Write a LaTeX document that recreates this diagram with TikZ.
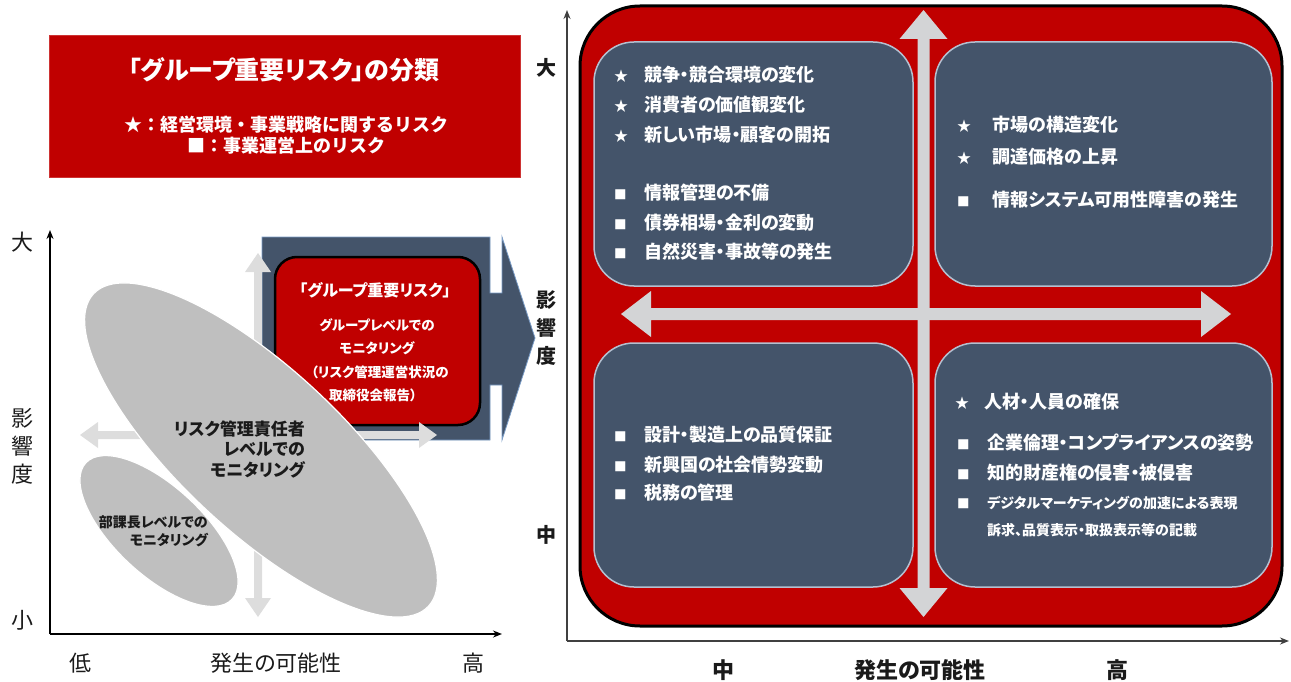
\documentclass[tikz,border=0pt]{standalone}
\usepackage{fontspec}
\setmainfont{Noto Sans CJK JP}[RawFeature=+palt]
\newfontfamily\jpfull{Noto Sans CJK JP}
\usetikzlibrary{shapes.geometric,arrows.meta}
\definecolor{rred}{HTML}{C00000}
\definecolor{navy}{HTML}{44546A}
\definecolor{qline}{HTML}{B4C0D0}
\definecolor{blockline}{HTML}{7A9CC6}
\definecolor{garrow}{HTML}{D3D4D6}
\definecolor{larrow}{HTML}{DDDDDD}
\definecolor{ellg}{HTML}{BFBFBF}
\definecolor{txtd}{HTML}{1A1A1A}
\newcommand\starb[1][30pt]{\makebox[#1][l]{\fontsize{14}{14}\selectfont ★}}
\newcommand\sqb[1][30pt]{\makebox[#1][l]{\fontsize{12.5}{12.5}\selectfont ■}}
\tikzset{
  legendbox/.style={fill=rred, draw=rred!80!white, line width=0.6pt, minimum width=471pt, minimum height=142pt, inner sep=0},
  wtitle/.style={text=white, font=\bfseries\fontsize{25}{28}\selectfont, inner sep=0},
  wsub/.style={text=white, font=\jpfull\bfseries\fontsize{18}{20}\selectfont, inner sep=0},
  grpbox/.style={fill=rred, draw=black, line width=2.5pt, rounded corners=22pt, minimum width=205pt, minimum height=168pt, inner sep=0},
  grptxt/.style={text=white, font=\bfseries\fontsize{13.5}{15}\selectfont, inner sep=0},
  grptitle/.style={text=white, font=\bfseries\fontsize{16}{18}\selectfont, inner sep=0},
  ell/.style={ellipse, fill=ellg, draw=white, line width=1.2pt, inner sep=0},
  elltxt/.style={text=txtd, font=\bfseries\fontsize{17}{20.5}\selectfont, inner sep=0, align=right},
  elltxts/.style={text=txtd, font=\bfseries\fontsize{14}{18}\selectfont, inner sep=0, align=right},
  laxlabel/.style={text=txtd, font=\mdseries\fontsize{22}{24}\selectfont, inner sep=0},
  raxlabel/.style={text=txtd, font=\bfseries\fontsize{20}{22}\selectfont, inner sep=0},
  bxlabel/.style={text=txtd, font=\bfseries\fontsize{22}{24}\selectfont, inner sep=0},
  laxis/.style={draw=black, line width=1.5pt, -{Stealth[length=9pt,width=7pt]}},
  raxis/.style={draw=black!75, line width=1.5pt, -{Stealth[length=9pt,width=7pt]}},
  frame/.style={fill=rred, draw=black, line width=3pt, rounded corners=60pt, minimum width=702pt, minimum height=620pt, inner sep=0},
  qbox/.style={fill=navy, draw=qline, line width=1.5pt, rounded corners=40pt, minimum height=244pt, inner sep=0},
  item/.style={anchor=west, text=white, font=\bfseries\fontsize{18}{20}\selectfont, inner sep=0},
  itemsm/.style={anchor=west, text=white, font=\bfseries\fontsize{14}{16}\selectfont, inner sep=0},
}
\begin{document}
\begin{tikzpicture}[x=1pt,y=-1pt]
\useasboundingbox (0,0) rectangle (1291,682);
% ---------------- legend box ----------------
\node[legendbox] (legend) at (284.5,106) {};
\node[wtitle] (legtitle) at (284,70) {「グループ重要リスク」の分類};
\node[wsub] (leg1) at (286,125) {★：経営環境・事業戦略に関するリスク};
\node[wsub] (leg2) at (286,146) {■：事業運営上のリスク};
% ---------------- left chart ----------------
\draw[fill=navy, draw=blockline, line width=0.8pt]
  (262,237) -- (490,237) -- (490,293) -- (502,293) -- (502,237) -- (535,338)
  -- (502,440) -- (502,385) -- (490,385) -- (490,440) -- (262,440) -- cycle;
\node[grpbox] (grp) at (377.5,341) {};
\node[grptitle] (grp0) at (375,290) {「グループ重要リスク」};
\node[grptxt] (grp1) at (377,325) {グループレベルでの};
\node[grptxt] (grp2) at (377,348) {モニタリング};
\node[grptxt] (grp3) at (380,372) {（リスク管理運営状況の};
\node[grptxt] (grp4) at (373,395) {取締役会報告）};
% light double arrows
\fill[larrow] (258,253) -- (271,272) -- (262,272) -- (262,598) -- (271,598) -- (258,617)
  -- (245,598) -- (254,598) -- (254,272) -- (245,272) -- cycle;
\fill[larrow] (80,435) -- (98,422) -- (98,431) -- (419,431) -- (419,422) -- (437,435)
  -- (419,448) -- (419,439) -- (98,439) -- (98,448) -- cycle;
% ellipses
\node[ell, minimum width=458pt, minimum height=162pt, rotate=-43] (big) at (261,450) {};
\node[ell, minimum width=200pt, minimum height=88pt, rotate=-43] (small) at (159,531) {};
\node[elltxt, anchor=east] (bigtxt) at (305,449) {リスク管理責任者\\レベルでの\hspace*{16pt}\\モニタリング};
\node[elltxts, anchor=east] (smalltxt) at (208,531) {部課長レベルでの\\モニタリング};
% axes
\coordinate (lo) at (50,634);
\coordinate (ly) at (50,230);
\coordinate (lx) at (502,634);
\draw[laxis] (lo) -- (ly);
\draw[laxis] (lo) -- (lx);
\node[laxlabel] (lbig) at (22,242) {大};
\node[laxlabel] (lsmall) at (22,620) {小};
\node[laxlabel] (le1) at (22,418) {影};
\node[laxlabel] (le2) at (22,446) {響};
\node[laxlabel] (le3) at (22,474) {度};
\node[laxlabel] (llow) at (80,663) {低};
\node[laxlabel] (lposs) at (276,663) {発生の可能性};
\node[laxlabel] (lhigh) at (473,663) {高};
% ---------------- right chart ----------------
\node[frame] (fr) at (931,316) {};
\fill[garrow] (621,314) -- (651,291) -- (651,308) -- (1201,308) -- (1201,291) -- (1231,314)
  -- (1201,337) -- (1201,320) -- (651,320) -- (651,337) -- cycle;
\fill[garrow] (923.5,10) -- (947.5,39) -- (929.5,39) -- (929.5,588) -- (947.5,588) -- (923.5,617)
  -- (899.5,588) -- (917.5,588) -- (917.5,39) -- (899.5,39) -- cycle;
\node[qbox, minimum width=319pt] (qtl) at (753.5,164) {};
\node[qbox, minimum width=337pt] (qtr) at (1103.5,164) {};
\node[qbox, minimum width=319pt] (qbl) at (753.5,465) {};
\node[qbox, minimum width=337pt] (qbr) at (1103.5,465) {};
% TL items
\node[item] (tl1) at (614,75) {\starb 競争・競合環境の変化};
\node[item] (tl2) at (614,105) {\starb 消費者の価値観変化};
\node[item] (tl3) at (614,135) {\starb 新しい市場・顧客の開拓};
\node[item] (tl4) at (614,193) {\sqb 情報管理の不備};
\node[item] (tl5) at (614,223) {\sqb 債券相場・金利の変動};
\node[item] (tl6) at (614,252) {\sqb 自然災害・事故等の発生};
% TR items
\node[item] (tr1) at (957,125) {\starb[31pt] 市場の構造変化};
\node[item] (tr2) at (957,157) {\starb[31pt] 調達価格の上昇};
\node[item] (tr3) at (957,200) {\sqb[31pt] 情報システム可用性障害の発生};
% BL items
\node[item] (bl1) at (614,435) {\sqb 設計・製造上の品質保証};
\node[item] (bl2) at (614,465) {\sqb 新興国の社会情勢変動};
\node[item] (bl3) at (614,493) {\sqb 税務の管理};
% BR items
\node[item] (br1) at (955,402) {\starb[25pt] 人材・人員の確保};
\node[item] (br2) at (957,443) {\sqb 企業倫理・コンプライアンスの姿勢};
\node[item] (br3) at (957,473) {\sqb 知的財産権の侵害・被侵害};
\node[itemsm] (br4) at (957,503) {\sqb デジタルマーケティングの加速による表現};
\node[itemsm] (br5) at (987,530) {訴求、品質表示・取扱表示等の記載};
% right axes
\coordinate (ro) at (567,641);
\coordinate (ry) at (567,10);
\coordinate (rx) at (1289,641);
\draw[raxis] (ro) -- (ry);
\draw[raxis] (ro) -- (rx);
\node[raxlabel] (rbig) at (546,68) {大};
\node[raxlabel] (re1) at (546,300) {影};
\node[raxlabel] (re2) at (546,328) {響};
\node[raxlabel] (re3) at (546,356) {度};
\node[raxlabel] (rmid) at (546,535) {中};
\node[bxlabel] (bmid) at (723,670) {中};
\node[bxlabel] (bposs) at (920,670) {発生の可能性};
\node[bxlabel] (bhigh) at (1117,670) {高};
\end{tikzpicture}
\end{document}
